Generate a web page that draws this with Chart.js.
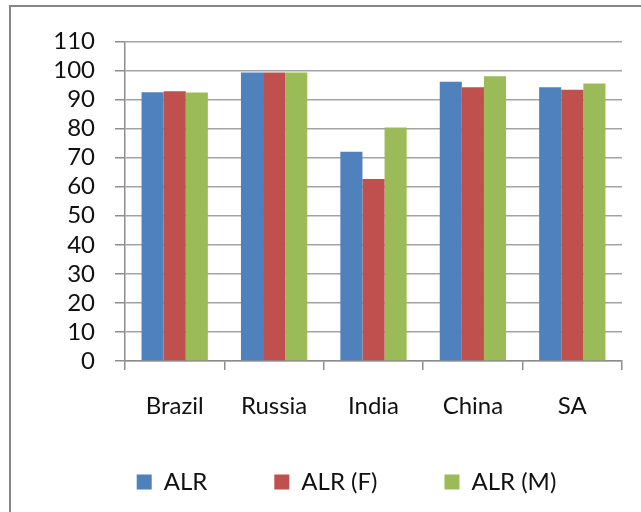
<!DOCTYPE html>
<html>
<head>
<meta charset="utf-8">
<script src="https://cdn.jsdelivr.net/npm/chart.js@4/dist/chart.umd.min.js"></script>
<style>
  html, body { margin: 0; padding: 0; background: #ffffff; overflow: hidden; }
  .frame {
    position: absolute; left: 9px; top: 5px;
    width: 700px; height: 560px;
    border-left: 2px solid #878787; border-top: 2px solid #878787;
    background: #ffffff;
  }
  .box { position: absolute; left: 0; top: 0; width: 671px; height: 515px; }
</style>
</head>
<body>
<div class="frame"><div class="box"><canvas id="c"></canvas></div></div>
<script>
// Adult literacy rate (%) for the BRICS countries
const countries = ['Brazil', 'Russia', 'India', 'China', 'SA'];
const alrTotal  = [92.5, 99.3, 72.0, 96.1, 94.2];
const alrFemale = [92.8, 99.3, 62.6, 94.2, 93.4];
const alrMale   = [92.4, 99.3, 80.4, 98.0, 95.5];
const seriesNames = ['ALR', 'ALR (F)', 'ALR (M)'];
const yTicks = [0, 10, 20, 30, 40, 50, 60, 70, 80, 90, 100, 110];

const gridGray = '#a3a3a3';
const axisGray = '#8e8e8e';
const textColor = '#111111';

// The legend keeps wide gaps between its entries; pull it up closer to the axis labels.
const legendLift = {
  id: 'legendLift',
  afterLayout(chart) {
    const lg = chart.legend;
    if (lg) { lg.top -= 18; lg.bottom -= 18; }
  }
};

new Chart(document.getElementById('c'), {
  type: 'bar',
  data: {
    labels: countries,
    datasets: [
      { label: seriesNames[0], data: alrTotal,  backgroundColor: '#4F81BD' },
      { label: seriesNames[1], data: alrFemale, backgroundColor: '#C0504D' },
      { label: seriesNames[2], data: alrMale,   backgroundColor: '#9BBB59' }
    ]
  },
  plugins: [legendLift],
  options: {
    responsive: true,
    maintainAspectRatio: false,
    animation: false,
    devicePixelRatio: 1,
    layout: { padding: { top: 34, left: 0, right: 0, bottom: 0 } },
    datasets: { bar: { categoryPercentage: 0.667, barPercentage: 1.0 } },
    plugins: {
      legend: {
        position: 'bottom',
        labels: {
          boxWidth: 15, boxHeight: 15, padding: 67,
          color: textColor,
          font: { family: 'Lato', size: 24 }
        }
      },
      tooltip: { enabled: false }
    },
    scales: {
      x: {
        grid: { display: true, drawOnChartArea: false, drawTicks: true, tickLength: 9, color: axisGray, lineWidth: 1.5, offset: true },
        border: { display: true, color: axisGray, width: 1.5 },
        ticks: { color: textColor, padding: 22, font: { family: 'Lato', size: 24 } },
        afterFit: (s) => { s.height = 60; }
      },
      y: {
        min: 0, max: 110,
        afterBuildTicks: (s) => { s.ticks = yTicks.map(v => ({ value: v })); },
        grid: { color: gridGray, lineWidth: 1.5, drawTicks: true, tickLength: 10, tickColor: axisGray },
        border: { display: true, color: axisGray, width: 1.5 },
        ticks: { color: textColor, padding: 20, autoSkip: false, font: { family: 'Lato', size: 24 } },
        afterFit: (s) => { s.width = 114; }
      },
      rightPad: {
        type: 'linear', position: 'right', display: true,
        grid: { display: false }, border: { display: false }, ticks: { display: false },
        afterFit: (s) => { s.width = 60; }
      }
    }
  }
});
</script>
</body>
</html>
